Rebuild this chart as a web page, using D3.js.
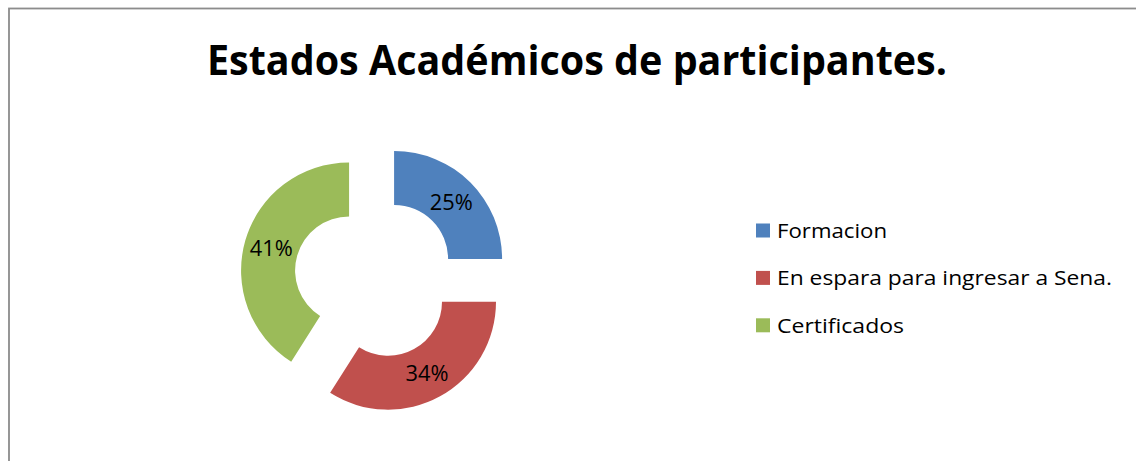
<!DOCTYPE html>
<html>
<head>
<meta charset="utf-8">
<script src="https://cdn.jsdelivr.net/npm/d3@7"></script>
<style>
  html, body { margin: 0; padding: 0; background: #fff; }
  svg { display: block; }
  text { font-family: "Open Sans", "Noto Sans", sans-serif; fill: #000; }
</style>
</head>
<body>
<svg id="chart"></svg>
<script>
// chart size
var width = 1136;
var height = 461;

// data
var categories = ['Formacion', 'En espara para ingresar a Sena.', 'Certificados'];
var values = [25, 34, 41];
var colors = ['#4F81BD', '#C0504D', '#9BBB59'];
var title = 'Estados Académicos de participantes.';

// donut geometry
var cx = 375, cy = 278;
var outerR = 108, innerR = 54;
var explode = 27;

var total = d3.sum(values);
var pct = d3.format('.0%');

var svg = d3.select('#chart')
  .attr('width', width)
  .attr('height', height);

// chart frame (right and bottom edges run off the picture)
svg.append('rect')
  .attr('x', 9).attr('y', 8.5)
  .attr('width', width + 20).attr('height', height + 20)
  .attr('fill', 'none')
  .attr('stroke', '#8c8c8c')
  .attr('stroke-width', 1.8);

svg.append('text')
  .attr('x', 207).attr('y', 75)
  .attr('font-size', 42)
  .attr('font-weight', 'bold')
  .attr('textLength', 740)
  .attr('lengthAdjust', 'spacingAndGlyphs')
  .text(title);

var pie = d3.pie().sort(null).value(d => d);
var arcs = pie(values);

var arc = d3.arc().innerRadius(innerR).outerRadius(outerR);
var labelArc = d3.arc().innerRadius(81).outerRadius(81);

// offset each slice outward along its middle angle
function shift(d) {
  var a = (d.startAngle + d.endAngle) / 2;
  return [cx + explode * Math.sin(a), cy - explode * Math.cos(a)];
}

var slices = svg.append('g')
  .selectAll('g')
  .data(arcs)
  .enter()
  .append('g')
    .attr('transform', d => 'translate(' + shift(d) + ')');

slices.append('path')
  .attr('d', arc)
  .attr('fill', (d, i) => colors[i]);

slices.append('text')
  .attr('x', d => labelArc.centroid(d)[0])
  .attr('y', d => labelArc.centroid(d)[1] + 8)
  .attr('text-anchor', 'middle')
  .attr('font-size', 22.5)
  .attr('textLength', 43)
  .attr('lengthAdjust', 'spacingAndGlyphs')
  .text(d => pct(d.value / total));

// legend
var legendWidths = [110, 335, 127];
var legend = svg.append('g')
  .selectAll('g')
  .data(categories)
  .enter()
  .append('g')
    .attr('transform', (d, i) => 'translate(756,' + (237.7 + i * 47.4) + ')');

legend.append('rect')
  .attr('x', 0).attr('y', -14.2)
  .attr('width', 14).attr('height', 14)
  .attr('fill', (d, i) => colors[i]);

legend.append('text')
  .attr('x', 21).attr('y', 0)
  .attr('font-size', 20.5)
  .attr('textLength', (d, i) => legendWidths[i])
  .attr('lengthAdjust', 'spacingAndGlyphs')
  .text(d => d);
</script>
</body>
</html>
